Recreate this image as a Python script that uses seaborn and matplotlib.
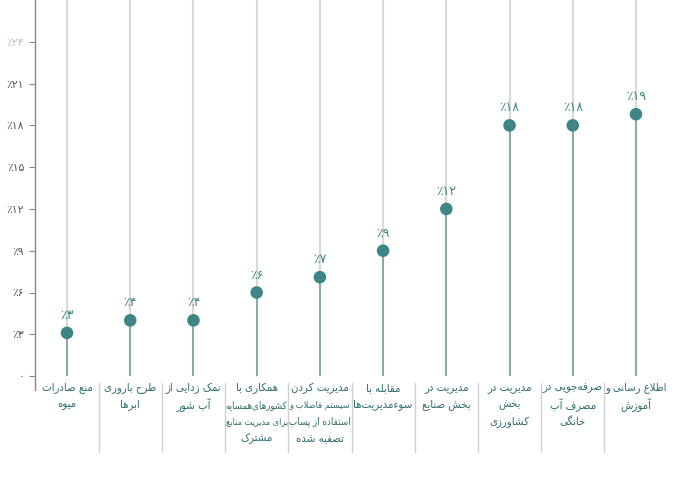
import matplotlib
matplotlib.use("Agg")
import matplotlib.pyplot as plt
import matplotlib.transforms as mtransforms
import seaborn as sns
import pandas as pd

# ---------------- data ----------------
categories = [
    ["منع صادرات", "میوه"],
    ["طرح باروری", "ابرها"],
    ["نمک زدایی از", "آب شور"],
    ["همکاری با", "کشورهای\u200cهمسایه", "برای مدیریت منابع", "مشترک"],
    ["مدیریت کردن", "سیستم فاضلاب و", "استفاده از پساب", "تصفیه شده"],
    ["مقابله با", "سوءمدیریت\u200cها"],
    ["مدیریت در", "بخش صنایع"],
    ["مدیریت در", "بخش", "کشاورزی"],
    ["صرفه\u200cجویی در", "مصرف آب", "خانگی"],
    ["اطلاع رسانی و", "آموزش"],
]
values = [3.1, 4.0, 4.0, 6.0, 7.1, 9.0, 12.0, 18.0, 18.0, 18.8]
value_labels = ["٪۳", "٪۴", "٪۴", "٪۶", "٪۷", "٪۹", "٪۱۲", "٪۱۸", "٪۱۸", "٪۱۹"]
ytick_values = [0, 3, 6, 9, 12, 15, 18, 21, 24]
ytick_labels = ["۰", "٪۳", "٪۶", "٪۹", "٪۱۲", "٪۱۵", "٪۱۸", "٪۲۱", "٪۲۴"]

# ---------------- minimal Arabic/Persian shaping ----------------
FORMS = {
    '\u0621': ('\uFE80', None, None, None),
    '\u0622': ('\uFE81', '\uFE82', None, None),
    '\u0627': ('\uFE8D', '\uFE8E', None, None),
    '\u0628': ('\uFE8F', '\uFE90', '\uFE91', '\uFE92'),
    '\u067E': ('\uFB56', '\uFB57', '\uFB58', '\uFB59'),
    '\u062A': ('\uFE95', '\uFE96', '\uFE97', '\uFE98'),
    '\u062B': ('\uFE99', '\uFE9A', '\uFE9B', '\uFE9C'),
    '\u062C': ('\uFE9D', '\uFE9E', '\uFE9F', '\uFEA0'),
    '\u0686': ('\uFB7A', '\uFB7B', '\uFB7C', '\uFB7D'),
    '\u062D': ('\uFEA1', '\uFEA2', '\uFEA3', '\uFEA4'),
    '\u062E': ('\uFEA5', '\uFEA6', '\uFEA7', '\uFEA8'),
    '\u062F': ('\uFEA9', '\uFEAA', None, None),
    '\u0630': ('\uFEAB', '\uFEAC', None, None),
    '\u0631': ('\uFEAD', '\uFEAE', None, None),
    '\u0632': ('\uFEAF', '\uFEB0', None, None),
    '\u0698': ('\uFB8A', '\uFB8B', None, None),
    '\u0633': ('\uFEB1', '\uFEB2', '\uFEB3', '\uFEB4'),
    '\u0634': ('\uFEB5', '\uFEB6', '\uFEB7', '\uFEB8'),
    '\u0635': ('\uFEB9', '\uFEBA', '\uFEBB', '\uFEBC'),
    '\u0636': ('\uFEBD', '\uFEBE', '\uFEBF', '\uFEC0'),
    '\u0637': ('\uFEC1', '\uFEC2', '\uFEC3', '\uFEC4'),
    '\u0638': ('\uFEC5', '\uFEC6', '\uFEC7', '\uFEC8'),
    '\u0639': ('\uFEC9', '\uFECA', '\uFECB', '\uFECC'),
    '\u063A': ('\uFECD', '\uFECE', '\uFECF', '\uFED0'),
    '\u0641': ('\uFED1', '\uFED2', '\uFED3', '\uFED4'),
    '\u0642': ('\uFED5', '\uFED6', '\uFED7', '\uFED8'),
    '\u06A9': ('\uFB8E', '\uFB8F', '\uFB90', '\uFB91'),
    '\u06AF': ('\uFB92', '\uFB93', '\uFB94', '\uFB95'),
    '\u0644': ('\uFEDD', '\uFEDE', '\uFEDF', '\uFEE0'),
    '\u0645': ('\uFEE1', '\uFEE2', '\uFEE3', '\uFEE4'),
    '\u0646': ('\uFEE5', '\uFEE6', '\uFEE7', '\uFEE8'),
    '\u0647': ('\uFEE9', '\uFEEA', '\uFEEB', '\uFEEC'),
    '\u0648': ('\uFEED', '\uFEEE', None, None),
    '\u06CC': ('\uFBFC', '\uFBFD', '\uFBFE', '\uFBFF'),
}
LAM_ALEF = {'\u0627': ('\uFEFB', '\uFEFC'), '\u0622': ('\uFEF5', '\uFEF6')}


def joins_next(c):
    f = FORMS.get(c)
    return f is not None and f[2] is not None


def joins_prev(c):
    f = FORMS.get(c)
    return f is not None and f[1] is not None


def fa(text):
    chars = list(text)
    n = len(chars)
    res = []
    i = 0
    while i < n:
        c = chars[i]
        if c == '\u200c':
            i += 1
            continue
        if c not in FORMS:
            res.append(c)
            i += 1
            continue
        prev = chars[i - 1] if i > 0 else None
        cp = prev is not None and joins_next(prev) and joins_prev(c)
        if c == '\u0644' and i + 1 < n and chars[i + 1] in LAM_ALEF:
            lig = LAM_ALEF[chars[i + 1]]
            res.append(lig[1] if cp else lig[0])
            i += 2
            continue
        nxt = chars[i + 1] if i + 1 < n else None
        cn = nxt is not None and joins_next(c) and joins_prev(nxt)
        f = FORMS[c]
        if cp and cn:
            res.append(f[3])
        elif cp:
            res.append(f[1])
        elif cn:
            res.append(f[2])
        else:
            res.append(f[0])
        i += 1
    return ''.join(res)[::-1]


# ---------------- plot ----------------
sns.set_theme(style="white")
plt.rcParams['font.family'] = ['DejaVu Sans']

DOT = "#3e8686"
STEM = "#82a6a8"
GRID = "#d9d9d9"
TXT = "#2f6d70"
TICK = "#555555"

df = pd.DataFrame({"pos": list(range(len(values))), "value": values})

fig = plt.figure(figsize=(7.0, 4.83), dpi=100)
ax = fig.add_axes([35.4 / 700, 93 / 483, 632.2 / 700, 390 / 483])
ax.set_xlim(-0.5, len(values) - 0.5)
ax.set_ylim(-1.0, 27.0)

ax.vlines(df["pos"], 0, 27.0, color=GRID, lw=1.6, zorder=1)
ax.vlines(df["pos"], 0, df["value"], color=STEM, lw=1.3, zorder=2)
sns.scatterplot(data=df, x="pos", y="value", ax=ax, s=82, color=DOT,
                edgecolor="none", zorder=3, legend=False)

for p, v, lab in zip(df["pos"], df["value"], value_labels):
    ax.text(p, v + 1.25, lab, ha="center", va="center", fontsize=9,
            color=DOT, zorder=4)

ax.set_yticks(ytick_values)
ax.set_yticklabels(ytick_labels)
for t in ax.get_yticklabels():
    t.set_color(TICK)
    t.set_fontsize(7.8)
ax.get_yticklabels()[-1].set_color("#bbbbbb")
ax.tick_params(axis="y", which="both", left=True, length=4, width=0.8,
               color="#888888", pad=4)
ax.set_xticks([])
ax.set_xlabel("")
ax.set_ylabel("")
for s in ["top", "right", "bottom"]:
    ax.spines[s].set_visible(False)
ax.spines["left"].set_color("#888888")
ax.spines["left"].set_linewidth(1.0)

trans = mtransforms.blended_transform_factory(ax.transData, fig.transFigure)
renderer = fig.canvas.get_renderer()
MAXW = 61.0
for i, lines in enumerate(categories):
    for k, line in enumerate(lines):
        y_px = 388 + 17 * k
        fs = 8.2
        t = ax.text(i, 1 - y_px / 483, fa(line), transform=trans, ha="center",
                    va="center", fontsize=fs, color=TXT, clip_on=False,
                    fontstretch="condensed")
        w = t.get_window_extent(renderer).width
        if w > MAXW:
            t.set_fontsize(fs * MAXW / w)

for i in range(len(values) - 1):
    ax.plot([i + 0.5, i + 0.5], [1 - 383 / 483, 1 - 452 / 483], transform=trans,
            color="#d0d0d0", lw=1.0, clip_on=False)

fig.savefig("out.png", dpi=100, facecolor="white")
